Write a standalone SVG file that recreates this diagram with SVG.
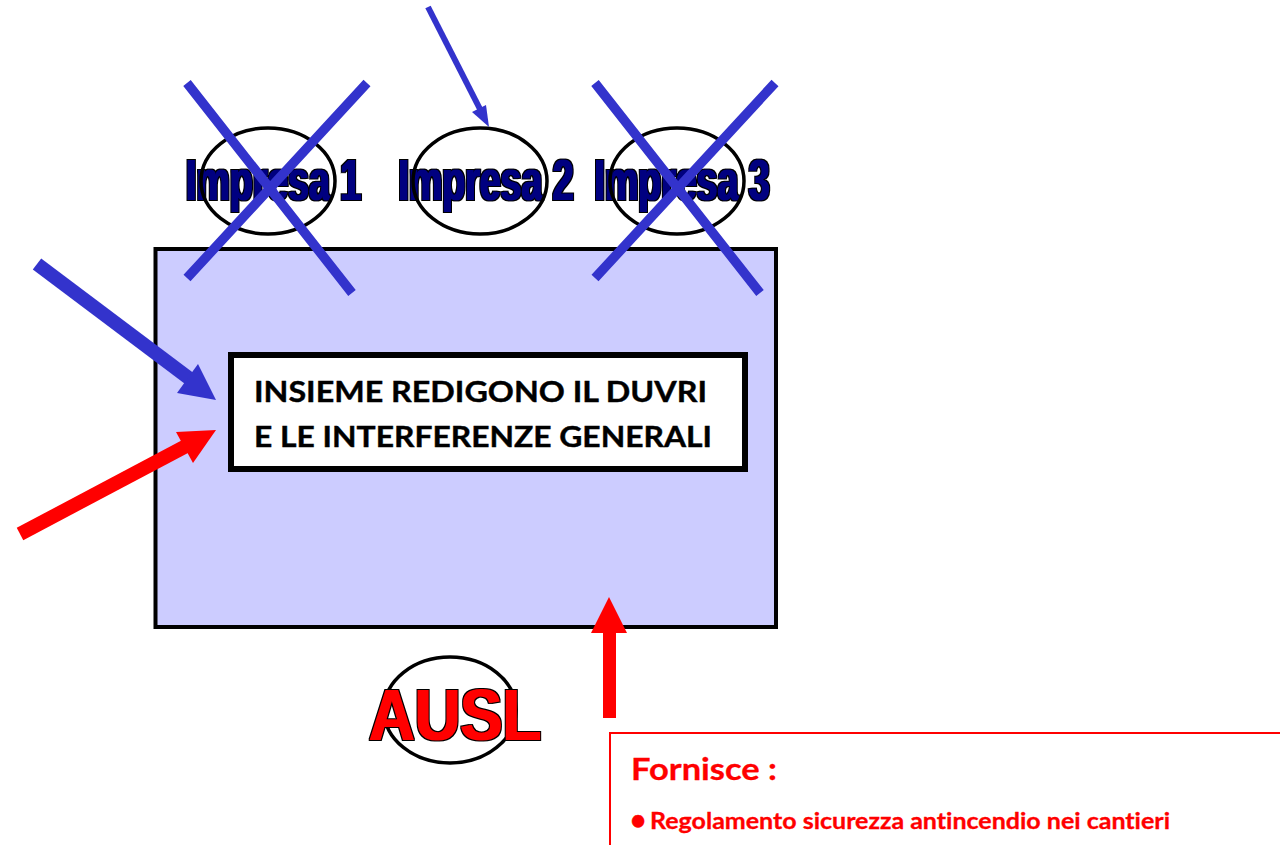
<svg xmlns="http://www.w3.org/2000/svg" width="1280" height="845" viewBox="0 0 1280 845">
<defs>
<filter id="wordart" x="-5%" y="-15%" width="110%" height="130%" color-interpolation-filters="sRGB">
<feMorphology in="SourceGraphic" operator="dilate" radius="1 0.200" result="f"/>
<feMorphology in="f" operator="dilate" radius="1" result="o"/>
<feColorMatrix in="o" type="matrix" values="0 0 0 0 0  0 0 0 0 0  0 0 0 0 0  0 0 0 1 0" result="k"/>
<feMerge><feMergeNode in="k"/><feMergeNode in="f"/></feMerge>
</filter>
</defs>
<style>
.el{fill:none;stroke:#000;stroke-width:3.5}
.imp{font-family:"Liberation Sans",Arial,sans-serif;font-weight:700;font-size:57px;fill:#000080;filter:url(#wordart)}
.ausl{font-family:"Liberation Sans",Arial,sans-serif;font-weight:700;font-size:72px;fill:#f00;filter:url(#wordart)}
.body{font-family:Lato,"Open Sans",sans-serif;font-weight:700;fill:#000;stroke:#000;stroke-width:.4;font-size:29px;font-variant-ligatures:none}
.red{font-family:Lato,"Open Sans",sans-serif;font-weight:700;fill:#f00;stroke:#f00;stroke-width:.3;font-variant-ligatures:none}
.x{stroke:#3333cc;stroke-width:9.500;fill:none}
.bl{fill:#3333cc}
.rd{fill:#f00}
</style>
<rect width="1280" height="845" fill="#fff"/>
<g id="main-box"><rect x="155.500" y="249" width="620.500" height="378" fill="#ccccff" stroke="#000" stroke-width="4"/></g>
<g id="impresa-1"><text class="imp" x="186" y="199.500" textLength="175" lengthAdjust="spacingAndGlyphs">Impresa 1</text><ellipse class="el" cx="268" cy="181" rx="67" ry="53"/></g>
<g id="impresa-2"><text class="imp" x="398.500" y="199.500" textLength="175" lengthAdjust="spacingAndGlyphs">Impresa 2</text><ellipse class="el" cx="480" cy="181" rx="67" ry="53"/></g>
<g id="impresa-3"><text class="imp" x="594.500" y="199.500" textLength="175" lengthAdjust="spacingAndGlyphs">Impresa 3</text><ellipse class="el" cx="677" cy="181" rx="67" ry="53"/></g>
<g id="ausl"><ellipse class="el" cx="450" cy="710" rx="66" ry="53"/><text class="ausl" x="369" y="739.500" textLength="172" lengthAdjust="spacingAndGlyphs">AUSL</text></g>
<g id="duvri-box"><rect x="231" y="355" width="514" height="114" fill="#fff" stroke="#000" stroke-width="6"/>
<text class="body" x="254" y="402" textLength="453" lengthAdjust="spacingAndGlyphs">INSIEME REDIGONO IL DUVRI</text>
<text class="body" x="254" y="447" textLength="458" lengthAdjust="spacingAndGlyphs">E LE INTERFERENZE GENERALI</text></g>
<g id="fornisce-box"><rect x="610" y="733" width="690" height="140" fill="#fff" stroke="#f00" stroke-width="2"/>
<text class="red" x="631" y="780" font-size="30" textLength="146" lengthAdjust="spacingAndGlyphs">Fornisce :</text>
<text class="red" x="630" y="830" font-size="28" font-family="Liberation Sans">•</text>
<text class="red" x="650" y="829" font-size="22" textLength="520" lengthAdjust="spacingAndGlyphs">Regolamento sicurezza antincendio nei cantieri</text></g>
<g id="connectors">
<path class="x" d="M187 83L352 293M367 83L187 278M595 83L760 293M775 83L595 278"/>
<path d="M428 7L483 115" stroke="#3333cc" stroke-width="6" fill="none"/>
<polygon class="bl" points="489,127 472,112 486,105"/>
<path d="M37 264L190 379" stroke="#3333cc" stroke-width="14" fill="none"/>
<polygon class="bl" points="216,400 177,393 198,364"/>
<path d="M20 534L188 445" stroke="#f00" stroke-width="14" fill="none"/>
<polygon class="rd" points="216,430 176,432 193,463"/>
<rect class="rd" x="603" y="630" width="13" height="88"/>
<polygon class="rd" points="609,597 591,633 627,633"/>
</g>
</svg>
